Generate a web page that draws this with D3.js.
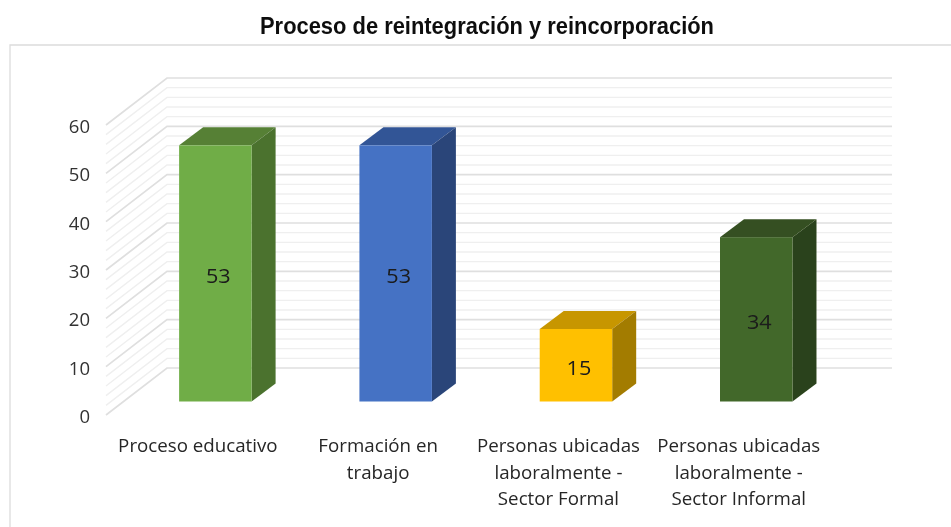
<!DOCTYPE html>
<html><head><meta charset="utf-8">
<script src="https://cdnjs.cloudflare.com/ajax/libs/d3/7.8.5/d3.min.js"></script>
<style>html,body{margin:0;padding:0;background:#fff}svg{display:block}text{font-family:"Open Sans","Noto Sans",sans-serif}</style>
</head><body><svg id="c" width="951" height="527"></svg>
<script>
const categories=[["Proceso educativo"],["Formación en","trabajo"],["Personas ubicadas","laboralmente -","Sector Formal"],["Personas ubicadas","laboralmente -","Sector Informal"]];
const values=[53,53,15,34];
const colors=["#70ad47","#4472c4","#ffc000","#43682b"];
const tops=["#568035","#335596","#c79600","#344f20"];
const sides=["#4b722f","#2a4579","#a37b00","#2b431b"];
const ticks=[0,10,20,30,40,50,60];
const gridValues=d3.range(0,61,2);
const title="Proceso de reintegración y reincorporación";

const svg=d3.select("#c");
svg.append("defs").append("filter").attr("id","soft").append("feGaussianBlur").attr("stdDeviation",0.55);
const g=svg.append("g").attr("filter","url(#soft)");

const yWall=d3.scaleLinear().domain([0,60]).range([368,78]);
const wallDx=61, wallDy=47;
const x=d3.scaleBand().domain(d3.range(4)).range([107,864.6]).paddingInner(0.598).paddingOuter(0.4);
const barOff=33.5, depthX=24, depthY=18;
const yBar=v=>yWall(v)+barOff;

g.append("path").attr("d","M10,527V45H951").attr("fill","none").attr("stroke","#dcdcdc").attr("stroke-width",1.3);

gridValues.forEach(v=>{
  const major=v%10===0;
  const yy=yWall(v);
  g.append("path").attr("d",`M${106},${yy+wallDy}L${106+wallDx},${yy}H892`)
   .attr("fill","none").attr("stroke",major?"#dfdfdf":"#efefef").attr("stroke-width",major?1.7:1.4);
});

function label(txt,cx,y,size,sx,fill,anchor){
  g.append("text").attr("transform",`translate(${cx},${y}) scale(${sx},1)`)
   .attr("text-anchor",anchor||"middle").attr("font-size",size).attr("fill",fill).text(txt);
}

values.forEach((v,i)=>{
  const x0=x(i), x1=x0+x.bandwidth(), t=yBar(v), b=yBar(0);
  g.append("path").attr("fill",tops[i]).attr("d",`M${x0},${t}L${x0+depthX},${t-depthY}H${x1+depthX}L${x1},${t}Z`);
  g.append("path").attr("fill",sides[i]).attr("d",`M${x1},${t}L${x1+depthX},${t-depthY}V${b-depthY}L${x1},${b}Z`);
  g.append("rect").attr("x",x0).attr("y",t).attr("width",x.bandwidth()).attr("height",b-t).attr("fill",colors[i]);
  label(v,x0+x.bandwidth()/2+3,(t+b)/2+10,20,1.08,"#1a1a1a");
});

ticks.forEach(v=>label(v,90,yWall(v)+wallDy+8,18,1.03,"#333","end"));

categories.forEach((lines,i)=>{
  lines.forEach((l,k)=>label(l,x(i)+x.bandwidth()/2-17.5,452+k*26.5,18,1.04,"#262626"));
});

g.append("text").attr("x",487).attr("y",34).attr("text-anchor","middle")
 .style("font-family","'Liberation Sans'").attr("textLength",454).attr("lengthAdjust","spacingAndGlyphs")
 .attr("font-weight","bold").attr("font-size",23).attr("fill","#111").text(title);
</script></body></html>
